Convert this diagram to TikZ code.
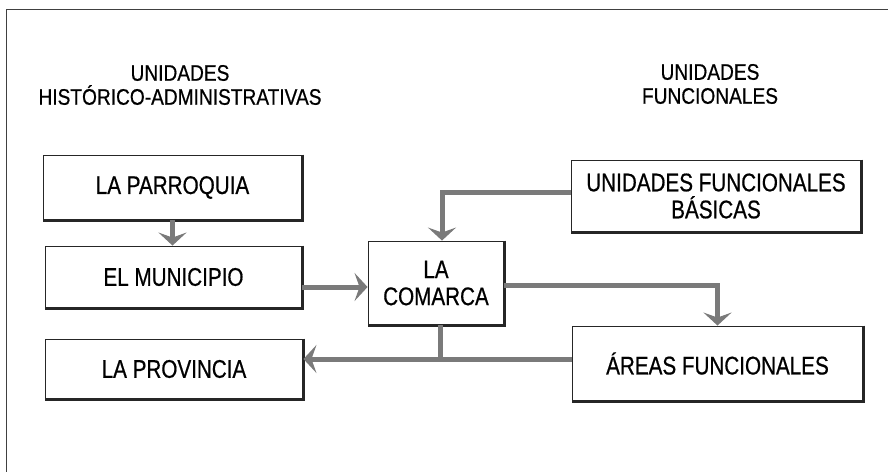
\documentclass[tikz,border=0pt]{standalone}
\usepackage{fontspec}
\setmainfont{Liberation Sans}[FakeStretch=0.85,FakeBold=0.6]
\newfontfamily\boxfont{Liberation Sans}[FakeStretch=0.81,FakeBold=0.6]
\usetikzlibrary{arrows.meta}
\begin{document}
\begin{tikzpicture}[x=1pt,y=-1pt,
  box/.style={draw=black!85, line width=0.9pt, inner sep=0pt, align=center,
    font=\boxfont\fontsize{25.5}{27}\selectfont},
  head/.style={align=center, font=\fontsize{22.5}{24}\selectfont, inner sep=0pt},
  arr/.style={draw=black!52, line width=5pt,
    -{Stealth[length=13pt,width=28pt,inset=5pt]}},
  lin/.style={draw=black!52, line width=5pt},
  shade/.style={draw=black!85, line width=2.6pt},
  frame/.style={draw=black!75, line width=0.8pt}]
\useasboundingbox (0,0) rectangle (888,472);
\fill[white] (0,0) rectangle (888,472);
% frame
\draw[frame] (888,9) -- (6,9) -- (6,472);
% headers
\node[head] (hl) at (180,85) {UNIDADES\\HISTÓRICO-ADMINISTRATIVAS};
\node[head] (hr) at (710,84) {UNIDADES\\FUNCIONALES};
% boxes
\node[box, minimum width=259pt, minimum height=65pt] (par) at (172.5,187.5) {LA PARROQUIA};
\node[box, minimum width=257pt, minimum height=62pt] (mun) at (173.5,277) {EL MUNICIPIO};
\node[box, minimum width=258pt, minimum height=60pt] (prov) at (174,369) {LA PROVINCIA};
\node[box, minimum width=136pt, minimum height=84pt] (com) at (436,283) {LA\\COMARCA};
\node[box, minimum width=290pt, minimum height=72pt] (ufb) at (716,196) {UNIDADES FUNCIONALES\\BÁSICAS};
\node[box, minimum width=291pt, minimum height=75pt] (area) at (717.5,363.5) {ÁREAS FUNCIONALES};
% heavier bottom/right edges
\foreach \n in {par,mun,prov,com,ufb,area}{
  \draw[shade] (\n.north east) -- (\n.south east) -- (\n.south west);
}
% connectors
\draw[arr] (par.south) -- (par.south |- mun.north);
\coordinate (m1) at ([yshift=-4pt]com.west);
\draw[arr] (mun.east |- m1) -- (m1);
\coordinate (c1) at ([xshift=6pt]com.north);
\draw[arr] ([yshift=4pt]ufb.west) -| (c1);
\draw[arr] ([yshift=-2pt]com.east) -| (area.north);
\coordinate (a1) at ([yshift=4.5pt]area.west);
\coordinate (jn) at ([xshift=4pt]com.south |- a1);
\draw[lin] ([xshift=4pt]com.south) -- (jn);
\draw[arr] (a1) -- (a1 -| prov.east);
\end{tikzpicture}
\end{document}
